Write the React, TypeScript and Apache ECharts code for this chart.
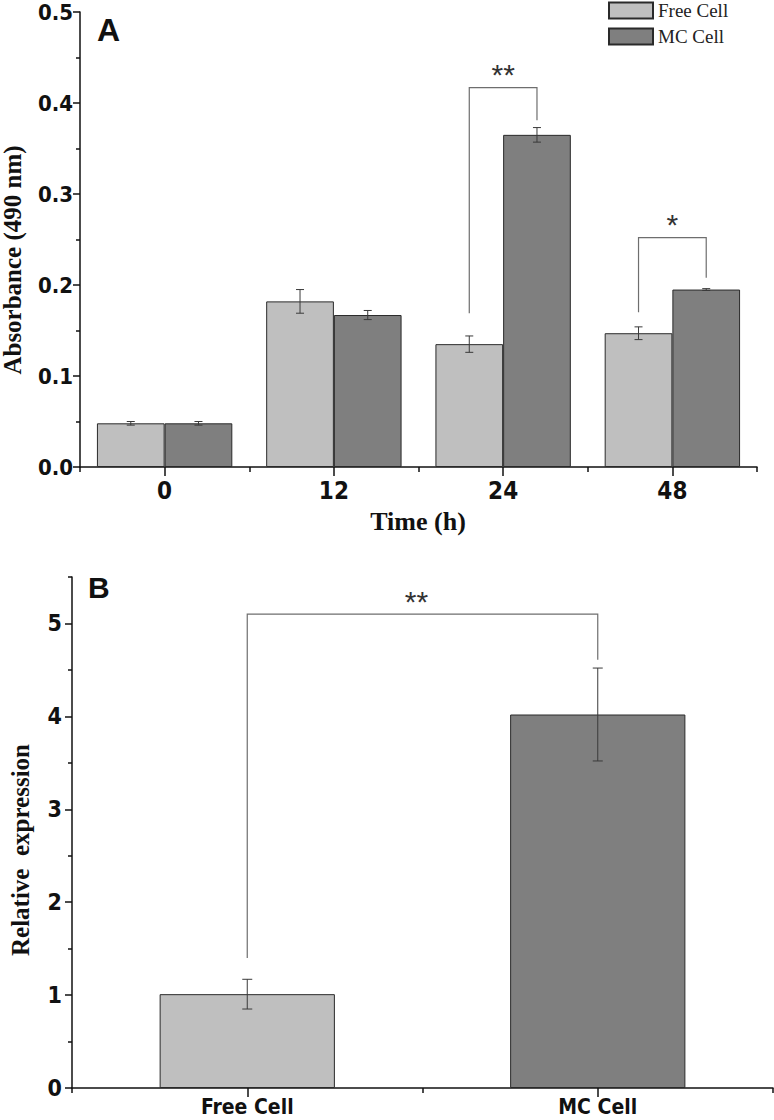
import React, { useEffect, useRef } from 'react';
import * as echarts from 'echarts';

// ---------- Panel A data ----------
const timeCategories = ['0', '12', '24', '48'];
const freeAbsorbance = [0.048, 0.182, 0.135, 0.147];
const freeAbsorbanceErr = [0.002, 0.013, 0.009, 0.007];
const mcAbsorbance = [0.048, 0.167, 0.365, 0.195];
const mcAbsorbanceErr = [0.002, 0.005, 0.008, 0.001];
// significance brackets: [categoryIndex, bracketTop, leftLineEnd, rightLineEnd]
const sigBracketsA = [
  [2, 0.417, 0.169, 0.381],
  [3, 0.252, 0.170, 0.208],
];
const sigLabelsA = ['**', '*'];

// ---------- Panel B data ----------
const cellCategories = ['Free Cell', 'MC Cell'];
const relExpression = [1.01, 4.02];
const relExpressionErr = [0.16, 0.5];
const expressionMajorTicks = [0, 1, 2, 3, 4, 5];
const expressionMinorTicks = [0.5, 1.5, 2.5, 3.5, 4.5, 5.5];
// [fromCategory, toCategory, bracketTop, leftLineEnd, rightLineEnd]
const sigBracketsB = [[0, 1, 5.1, 1.4, 4.61]];
const sigLabelsB = ['**'];

const FREE_COLOR = '#bfbfbf';
const MC_COLOR = '#7f7f7f';
const SANS = '"Liberation Sans", Arial, sans-serif';
const NARROW = '"Liberation Sans Narrow", "Arial Narrow", "DejaVu Sans Condensed", "Liberation Sans", Arial, sans-serif';
const SERIF = '"Liberation Serif", "Times New Roman", serif';

const errorRender = (offsetFrac: number, capHalf: number) => (params: any, api: any) => {
  const cat = api.value(0);
  const hi = api.coord([cat, api.value(1)]);
  const lo = api.coord([cat, api.value(2)]);
  const bw = api.size([1, 0])[0];
  const x = hi[0] + offsetFrac * bw;
  const style = { stroke: '#3a3a3a', lineWidth: 1 };
  return {
    type: 'group',
    children: [
      { type: 'line', shape: { x1: x, y1: hi[1], x2: x, y2: lo[1] }, style },
      { type: 'line', shape: { x1: x - capHalf, y1: hi[1], x2: x + capHalf, y2: hi[1] }, style },
      { type: 'line', shape: { x1: x - capHalf, y1: lo[1], x2: x + capHalf, y2: lo[1] }, style },
    ],
  };
};

const starStyle = (text: string) => ({
  text,
  fontSize: 30,
  fontFamily: SANS,
  fill: '#333',
  align: 'center',
  verticalAlign: 'bottom',
});

const bracketRenderA = (params: any, api: any) => {
  const cat = api.value(0);
  const top = api.coord([cat, api.value(1)]);
  const yl = api.coord([cat, api.value(2)])[1];
  const yr = api.coord([cat, api.value(3)])[1];
  const bw = api.size([1, 0])[0];
  const xl = top[0] - 0.2 * bw;
  const xr = top[0] + 0.2 * bw;
  return {
    type: 'group',
    children: [
      {
        type: 'polyline',
        shape: { points: [[xl, yl], [xl, top[1]], [xr, top[1]], [xr, yr]] },
        style: { stroke: '#6e6e6e', lineWidth: 1.2, fill: 'none' },
      },
      { type: 'text', x: top[0], y: top[1] + 2, style: starStyle(sigLabelsA[params.dataIndex]) },
    ],
  };
};

const bracketRenderB = (params: any, api: any) => {
  const top = api.coord([api.value(0), api.value(2)]);
  const right = api.coord([api.value(1), api.value(2)]);
  const yl = api.coord([api.value(0), api.value(3)])[1];
  const yr = api.coord([api.value(1), api.value(4)])[1];
  const xl = top[0];
  const xr = right[0];
  return {
    type: 'group',
    children: [
      {
        type: 'polyline',
        shape: { points: [[xl, yl], [xl, top[1]], [xr, top[1]], [xr, yr]] },
        style: { stroke: '#6e6e6e', lineWidth: 1.2, fill: 'none' },
      },
      { type: 'text', x: (xl + xr) / 2 - 6, y: top[1] + 2, style: starStyle(sigLabelsB[params.dataIndex]) },
    ],
  };
};

const axisLine = { show: true, lineStyle: { color: '#111', width: 1.5 } };
const tickLabel = { fontFamily: NARROW, fontWeight: 'bold' as const, color: '#111' };

export default function App() {
  const ref = useRef<HTMLDivElement>(null);
  useEffect(() => {
    if (!ref.current) return;
    const chart = echarts.init(ref.current, null, { renderer: 'svg' });
    const option: any = {
      animation: false,
      backgroundColor: '#fff',
      grid: [
        { left: 80, top: 12, width: 677, height: 455, outerBoundsMode: 'none', containLabel: false },
        { left: 72, top: 577, width: 701, height: 511, outerBoundsMode: 'none', containLabel: false },
      ],
      legend: {
        data: ['Free Cell', 'MC Cell'],
        orient: 'vertical',
        left: 608,
        top: 1,
        padding: 0,
        itemWidth: 44,
        itemHeight: 16,
        itemGap: 7,
        icon: 'rect',
        textStyle: { fontFamily: SERIF, fontSize: 19, color: '#222', padding: [0, 0, 0, 0] },
      },
      xAxis: [
        {
          type: 'category', gridIndex: 0, data: timeCategories,
          axisLine, axisTick: { show: true, length: 5, lineStyle: { color: '#111', width: 1.5 } },
          axisLabel: { ...tickLabel, fontSize: 24, margin: 12 },
        },
        {
          type: 'category', gridIndex: 0, data: timeCategories, position: 'bottom',
          axisLine: { show: false },
          axisTick: { show: true, alignWithLabel: true, length: 9, lineStyle: { color: '#111', width: 1.5 } },
          axisLabel: { show: false },
        },
        {
          type: 'category', gridIndex: 1, data: cellCategories,
          axisLine, axisTick: { show: true, length: 5, lineStyle: { color: '#111', width: 1.5 } },
          axisLabel: { ...tickLabel, fontSize: 21, margin: 8 },
        },
        {
          type: 'category', gridIndex: 1, data: cellCategories, position: 'bottom',
          axisLine: { show: false },
          axisTick: { show: true, alignWithLabel: true, length: 9, lineStyle: { color: '#111', width: 1.5 } },
          axisLabel: { show: false },
        },
      ],
      yAxis: [
        {
          type: 'value', gridIndex: 0, min: 0, max: 0.5, interval: 0.1,
          axisLine, splitLine: { show: false },
          axisTick: { show: true, length: 7, lineStyle: { color: '#111', width: 1.5 } },
          minorTick: { show: true, splitNumber: 2, length: 4, lineStyle: { color: '#111', width: 1.5 } },
          axisLabel: { ...tickLabel, fontSize: 22, margin: 7, formatter: (v: number) => v.toFixed(1) },
        },
        {
          type: 'value', gridIndex: 1, min: 0, max: 5.5, interval: 0.5,
          axisLine, splitLine: { show: false },
          axisTick: { show: true, length: 7, customValues: expressionMajorTicks, lineStyle: { color: '#111', width: 1.5 } },
          axisLabel: { ...tickLabel, fontSize: 23, margin: 10, customValues: expressionMajorTicks },
        },
        {
          type: 'value', gridIndex: 1, min: 0, max: 5.5, interval: 0.5, position: 'left',
          axisLine: { show: false }, splitLine: { show: false },
          axisTick: { show: true, length: 4, customValues: expressionMinorTicks, lineStyle: { color: '#111', width: 1.5 } },
          axisLabel: { show: false },
        },
      ],
      series: [
        {
          name: 'Free Cell', type: 'bar', xAxisIndex: 0, yAxisIndex: 0, data: freeAbsorbance,
          barGap: '0%', barCategoryGap: '20%',
          itemStyle: { color: FREE_COLOR, borderColor: '#2a2a2a', borderWidth: 1 },
        },
        {
          name: 'MC Cell', type: 'bar', xAxisIndex: 0, yAxisIndex: 0, data: mcAbsorbance,
          barGap: '0%', barCategoryGap: '20%',
          itemStyle: { color: MC_COLOR, borderColor: '#2a2a2a', borderWidth: 1 },
        },
        {
          type: 'custom', xAxisIndex: 0, yAxisIndex: 0, z: 5,
          renderItem: errorRender(-0.2, 4),
          encode: { x: 0, y: [1, 2] },
          data: freeAbsorbance.map((v, i) => [i, v + freeAbsorbanceErr[i], v - freeAbsorbanceErr[i]]),
        },
        {
          type: 'custom', xAxisIndex: 0, yAxisIndex: 0, z: 5,
          renderItem: errorRender(0.2, 4),
          encode: { x: 0, y: [1, 2] },
          data: mcAbsorbance.map((v, i) => [i, v + mcAbsorbanceErr[i], v - mcAbsorbanceErr[i]]),
        },
        {
          type: 'custom', xAxisIndex: 0, yAxisIndex: 0, z: 5,
          renderItem: bracketRenderA,
          encode: { x: 0, y: [1, 2, 3] },
          data: sigBracketsA,
        },
        {
          type: 'bar', xAxisIndex: 2, yAxisIndex: 1, barWidth: '50%',
          data: relExpression.map((v, i) => ({
            value: v,
            itemStyle: { color: i === 0 ? FREE_COLOR : MC_COLOR, borderColor: '#2a2a2a', borderWidth: 1 },
          })),
        },
        {
          type: 'custom', xAxisIndex: 2, yAxisIndex: 1, z: 5,
          renderItem: errorRender(0, 5),
          encode: { x: 0, y: [1, 2] },
          data: relExpression.map((v, i) => [i, v + relExpressionErr[i], v - relExpressionErr[i]]),
        },
        {
          type: 'custom', xAxisIndex: 2, yAxisIndex: 1, z: 5,
          renderItem: bracketRenderB,
          encode: { x: 0, y: [2, 3, 4] },
          data: sigBracketsB,
        },
      ],
      graphic: [
        {
          type: 'text', left: 97, top: 14,
          style: { text: 'A', fontSize: 32, fontWeight: 'bold', fontFamily: SANS, fill: '#111' },
        },
        {
          type: 'text', left: 88, top: 572,
          style: { text: 'B', fontSize: 30, fontWeight: 'bold', fontFamily: SANS, fill: '#111' },
        },
        {
          type: 'text', x: 12, y: 260, rotation: Math.PI / 2,
          style: {
            text: 'Absorbance (490 nm)', fontSize: 25, fontWeight: 'bold', fontFamily: SERIF,
            fill: '#111', align: 'center', verticalAlign: 'middle',
          },
        },
        {
          type: 'text', x: 20, y: 850, rotation: Math.PI / 2,
          style: {
            text: 'Relative  expression', fontSize: 25, fontWeight: 'bold', fontFamily: SERIF,
            fill: '#111', align: 'center', verticalAlign: 'middle',
          },
        },
        {
          type: 'text', x: 418, y: 521,
          style: {
            text: 'Time (h)', fontSize: 26, fontWeight: 'bold', fontFamily: SERIF,
            fill: '#111', align: 'center', verticalAlign: 'middle',
          },
        },
      ],
    };
    chart.setOption(option);
    return () => chart.dispose();
  }, []);
  return (
    <div
      ref={ref}
      style={{ position: 'absolute', left: 0, top: 0, width: 774, height: 1120, background: '#fff' }}
    />
  );
}
